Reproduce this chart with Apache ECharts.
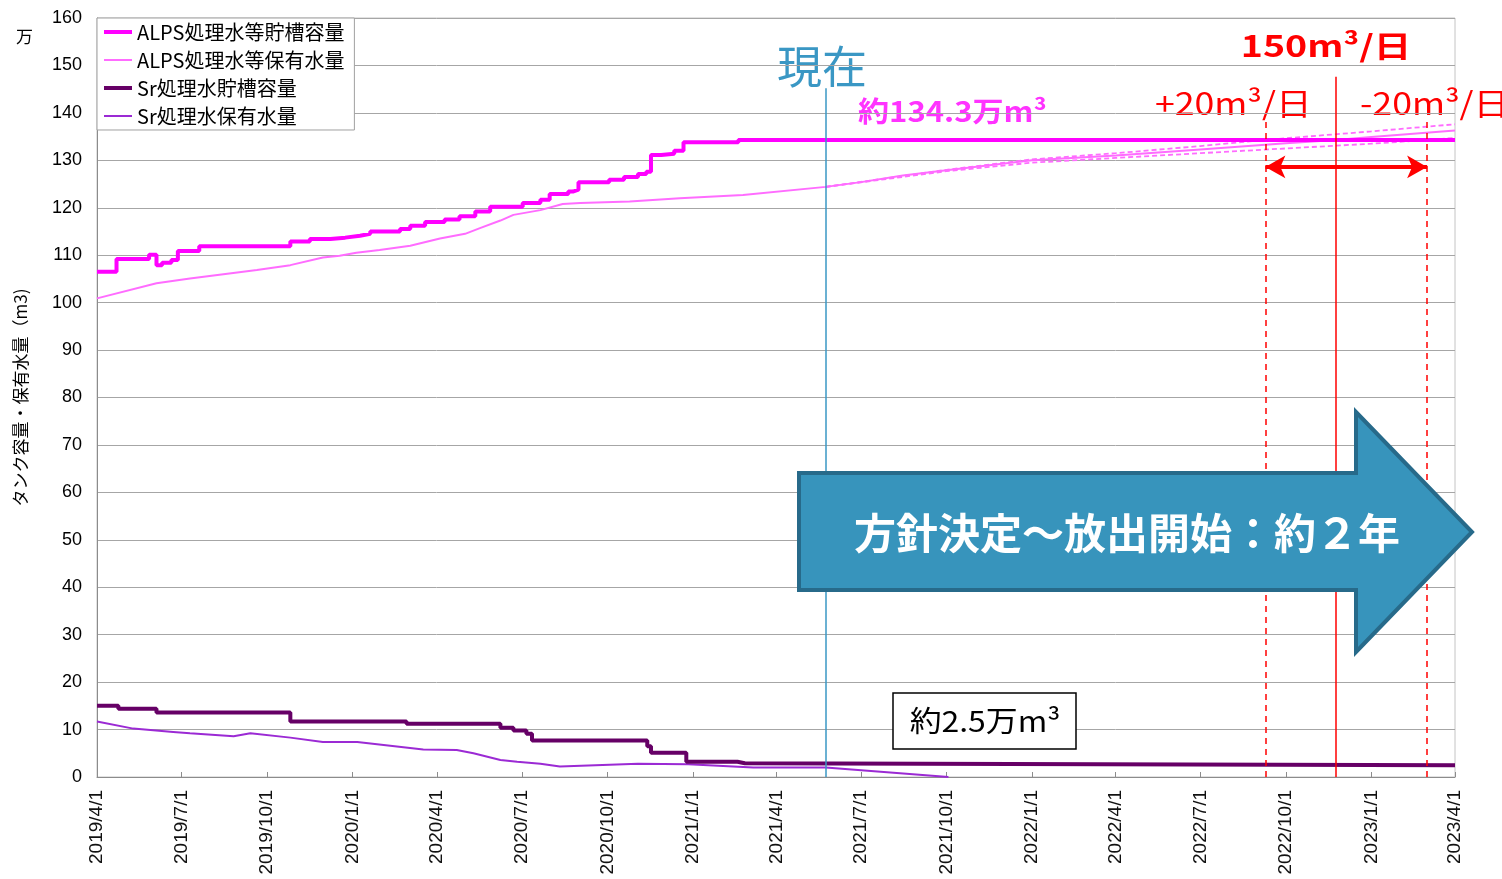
<!DOCTYPE html>
<html lang="ja">
<head>
<meta charset="utf-8">
<title>タンク容量・保有水量</title>
<script src="https://cdn.jsdelivr.net/npm/echarts@6.0.0/dist/echarts.min.js"></script>
<style>
    html, body { margin: 0; padding: 0; background: #fff; }
    #chart { width: 1502px; height: 879px; }
</style>
</head>
<body>
<div id="chart"></div>
<script>
// quarter ticks on the x axis
const quarterLabels = [
    '2019/4/1', '2019/7/1', '2019/10/1', '2020/1/1', '2020/4/1', '2020/7/1',
    '2020/10/1', '2021/1/1', '2021/4/1', '2021/7/1', '2021/10/1', '2022/1/1',
    '2022/4/1', '2022/7/1', '2022/10/1', '2023/1/1', '2023/4/1',
]

// ALPS処理水等貯槽容量 (万m3), value holds from the date on
const alpsCapacity = [
    ['2019/4/1', 106.5], ['2019/4/22', 109.2], ['2019/5/27', 110.1], ['2019/6/4', 107.9],
    ['2019/6/10', 108.4], ['2019/6/20', 109.0], ['2019/6/27', 110.9], ['2019/7/20', 111.9],
    ['2019/10/26', 112.9], ['2019/11/16', 113.4], ['2019/12/8', 113.7], ['2019/12/24', 114.1],
    ['2020/1/9', 114.5], ['2020/1/20', 115.0], ['2020/2/21', 115.5], ['2020/3/3', 116.2],
    ['2020/3/19', 117.0], ['2020/4/9', 117.5], ['2020/4/25', 118.2], ['2020/5/12', 119.2],
    ['2020/5/28', 120.2], ['2020/7/2', 121.0], ['2020/7/21', 121.7], ['2020/7/31', 122.9],
    ['2020/8/20', 123.4], ['2020/8/25', 123.8], ['2020/8/31', 125.4], ['2020/10/3', 125.9],
    ['2020/10/19', 126.5], ['2020/11/3', 127.1], ['2020/11/12', 127.6], ['2020/11/17', 131.1],
    ['2020/11/28', 131.4], ['2020/12/12', 132.0], ['2020/12/22', 133.8], ['2021/2/19', 134.3],
    ['2023/4/1', 134.3],
]

// ALPS処理水等保有水量 (actual up to 現在, then 150m3/日 projection)
const alpsStored = [
    ['2019/4/1', 100.9], ['2019/6/4', 104.1], ['2019/7/10', 105.1], ['2019/8/15', 106.0],
    ['2019/9/20', 106.9], ['2019/10/26', 107.9], ['2019/11/30', 109.5], ['2019/12/18', 109.9],
    ['2020/1/5', 110.5], ['2020/1/30', 111.1], ['2020/3/3', 112.0], ['2020/4/4', 113.5],
    ['2020/5/1', 114.5], ['2020/5/17', 115.7], ['2020/6/8', 117.3], ['2020/6/22', 118.5],
    ['2020/7/21', 119.5], ['2020/8/14', 120.8], ['2020/9/2', 121.0], ['2020/10/25', 121.3],
    ['2020/12/18', 122.0], ['2021/2/24', 122.7], ['2021/5/24', 124.4], ['2021/7/1', 125.4],
    ['2021/8/15', 126.8], ['2021/10/1', 127.9], ['2022/1/1', 130.0], ['2022/4/1', 131.0],
    ['2022/7/1', 132.3], ['2022/10/1', 133.6], ['2022/11/24', 134.3], ['2023/1/1', 134.9],
    ['2023/4/1', 136.3],
]

// projection +20m3/日 and -20m3/日
const alpsPlus20 = [
    ['2021/5/24', 124.4], ['2021/10/1', 128.0], ['2022/1/1', 130.2], ['2022/4/1', 131.5],
    ['2022/7/1', 133.0], ['2022/9/9', 134.3], ['2023/1/1', 136.1], ['2023/4/1', 137.6],
]
const alpsMinus20 = [
    ['2021/5/24', 124.4], ['2021/10/1', 127.7], ['2022/1/1', 129.5], ['2022/4/1', 130.5],
    ['2022/7/1', 131.5], ['2022/10/1', 132.5], ['2023/1/1', 133.5], ['2023/3/2', 134.3],
    ['2023/4/1', 134.7],
]

// Sr処理水貯槽容量
const srCapacity = [
    ['2019/4/1', 15.0], ['2019/4/24', 14.4], ['2019/6/4', 13.6], ['2019/10/26', 11.7],
    ['2020/2/28', 11.2], ['2020/6/8', 10.4], ['2020/6/22', 9.8], ['2020/7/6', 9.1],
    ['2020/7/12', 7.7], ['2020/11/13', 6.5], ['2020/11/17', 5.1], ['2020/12/25', 3.2],
    ['2021/2/18', 2.9], ['2021/2/26', 2.5], ['2023/4/1', 2.5],
]

// Sr処理水保有水量
const srStored = [
    ['2019/4/1', 11.7], ['2019/5/10', 10.2], ['2019/6/22', 9.5], ['2019/7/10', 9.2],
    ['2019/8/26', 8.6], ['2019/9/13', 9.2], ['2019/10/26', 8.3], ['2019/11/30', 7.4],
    ['2020/1/6', 7.4], ['2020/3/17', 5.8], ['2020/4/22', 5.7], ['2020/5/10', 5.0],
    ['2020/6/8', 3.6], ['2020/6/26', 3.2], ['2020/7/21', 2.8], ['2020/8/11', 2.2],
    ['2020/11/3', 2.8], ['2020/12/27', 2.7], ['2021/3/7', 2.0], ['2021/5/24', 2.0],
    ['2021/10/3', 0],
]

// event dates
const nowDate = '2021/5/24'
const fullDate = '2022/11/24'
const fullDatePlus = '2022/9/9'
const fullDateMinus = '2023/3/2'

// one category per day from the first to the last quarter tick
const days = []
const startUtc = Date.UTC(2019, 3, 1)
const endUtc = Date.UTC(2023, 3, 1)
for (let t = startUtc; t <= endUtc; t += 86400000) {
    const d = new Date(t)
    days.push(`${d.getUTCFullYear()}/${d.getUTCMonth() + 1}/${d.getUTCDate()}`)
}
const quarterSet = new Set(quarterLabels)
const isQuarter = (index, value) => quarterSet.has(value)

const jpFont = "'Noto Sans CJK JP', sans-serif"
const numFont = "'Liberation Sans', 'Noto Sans CJK JP', sans-serif"
const red = '#ff0000'

// flat bar icons for the legend (thick and thin)
const thickIcon = 'path://M0,0L28,0L28,4L0,4Z'
const thinIcon = 'path://M0,0L28,0L28,2L0,2Z'

const vLine = (date, top, style) => [
    { coord: [date, 0], lineStyle: style },
    { coord: [date, top] },
]

const chart = echarts.init(document.getElementById('chart'))

chart.setOption({
    animation: false,
    textStyle: { fontFamily: jpFont },
    grid: {
        left: 97,
        right: 47,
        top: 18,
        bottom: 102,
        show: true,
        borderColor: '#c4c4c4',
        borderWidth: 1,
    },
    legend: {
        data: [
            { name: 'ALPS処理水等貯槽容量', icon: thickIcon },
            { name: 'ALPS処理水等保有水量', icon: thinIcon },
            { name: 'Sr処理水貯槽容量', icon: thickIcon },
            { name: 'Sr処理水保有水量', icon: thinIcon },
        ],
        orient: 'vertical',
        left: 97,
        top: 18,
        padding: [4, 10, 4, 7],
        itemGap: 8,
        itemWidth: 28,
        itemHeight: 18,
        backgroundColor: '#fff',
        borderColor: '#a0a0a0',
        borderWidth: 1,
        textStyle: { fontSize: 20, color: '#000', fontFamily: jpFont },
    },
    xAxis: {
        type: 'category',
        data: days,
        boundaryGap: false,
        axisLine: { lineStyle: { color: '#8c8c8c' } },
        axisTick: {
            inside: true,
            length: 5,
            interval: isQuarter,
            lineStyle: { color: '#8c8c8c' },
        },
        axisLabel: {
            interval: isQuarter,
            rotate: 90,
            margin: 13,
            fontSize: 19,
            color: '#111',
            fontFamily: numFont,
        },
        splitLine: { show: false },
    },
    yAxis: {
        type: 'value',
        min: 0,
        max: 160,
        interval: 10,
        name: 'タンク容量・保有水量（m3)',
        nameLocation: 'middle',
        nameRotate: 90,
        nameGap: 68,
        nameTextStyle: { fontSize: 17, color: '#000', fontFamily: jpFont },
        axisLine: { show: true, lineStyle: { color: '#8c8c8c' } },
        axisTick: { show: false },
        axisLabel: { fontSize: 18, color: '#000', margin: 15, fontFamily: numFont },
        splitLine: { lineStyle: { color: '#a6a6a6', width: 1 } },
    },
    series: [
        {
            name: 'ALPS処理水等貯槽容量',
            type: 'line',
            step: 'end',
            symbol: 'none',
            data: alpsCapacity,
            itemStyle: { color: '#ff00ff' },
            lineStyle: { color: '#ff00ff', width: 4 },
            z: 4,
        },
        {
            name: 'ALPS処理水等保有水量',
            type: 'line',
            symbol: 'none',
            data: alpsStored,
            itemStyle: { color: '#ff6cff' },
            lineStyle: { color: '#ff6cff', width: 2 },
            z: 3,
        },
        {
            name: 'Sr処理水貯槽容量',
            type: 'line',
            step: 'end',
            symbol: 'none',
            data: srCapacity,
            itemStyle: { color: '#660066' },
            lineStyle: { color: '#660066', width: 4 },
            z: 4,
        },
        {
            name: 'Sr処理水保有水量',
            type: 'line',
            symbol: 'none',
            data: srStored,
            itemStyle: { color: '#9b2ad4' },
            lineStyle: { color: '#9b2ad4', width: 2 },
            z: 3,
        },
        {
            name: '+20m3/日',
            type: 'line',
            symbol: 'none',
            data: alpsPlus20,
            lineStyle: { color: '#ff6cff', width: 1.8, type: [5, 3] },
            z: 3,
        },
        {
            name: '-20m3/日',
            type: 'line',
            symbol: 'none',
            data: alpsMinus20,
            lineStyle: { color: '#ff6cff', width: 1.8, type: [5, 3] },
            z: 3,
            markLine: {
                silent: true,
                symbol: 'none',
                label: { show: false },
                data: [
                    vLine(nowDate, 145.2, { color: '#3a97c4', width: 1.5, type: 'solid' }),
                    vLine(fullDate, 147.6, { color: red, width: 1.5, type: 'solid' }),
                    vLine(fullDatePlus, 138.9, { color: red, width: 1.5, type: [6, 5] }),
                    vLine(fullDateMinus, 138.9, { color: red, width: 1.5, type: [6, 5] }),
                    [
                        {
                            coord: [fullDatePlus, 128.6],
                            symbol: 'arrow',
                            symbolSize: [17, 20],
                            lineStyle: { color: red, width: 4, type: 'solid' },
                        },
                        { coord: [fullDateMinus, 128.6], symbol: 'arrow', symbolSize: [17, 20] },
                    ],
                ],
            },
        },
    ],
    graphic: [
        {
            type: 'text',
            x: 16,
            y: 28,
            style: { text: '万', fontSize: 17, fill: '#000', fontFamily: jpFont },
        },
        {
            type: 'text',
            x: 822,
            y: 67,
            style: {
                text: '現在', fontSize: 45, fill: '#3a97c4', fontFamily: jpFont,
                align: 'center', verticalAlign: 'middle',
            },
        },
        {
            type: 'text',
            x: 858,
            y: 111,
            scaleX: 1.11,
            style: {
                text: '約134.3万m³', fontSize: 28, fontWeight: 'bold', fill: '#ff33ff',
                fontFamily: jpFont, align: 'left', verticalAlign: 'middle',
            },
        },
        {
            type: 'text',
            x: 1326,
            y: 46,
            scaleX: 1.25,
            style: {
                text: '150m³/日', fontSize: 30, fontWeight: 'bold', fill: red,
                fontFamily: jpFont, align: 'center', verticalAlign: 'middle',
            },
        },
        {
            type: 'text',
            x: 1155,
            y: 103,
            scaleX: 1.15,
            style: {
                text: '+20m³/日', fontSize: 31, fill: red,
                fontFamily: jpFont, align: 'left', verticalAlign: 'middle',
            },
        },
        {
            type: 'text',
            x: 1360,
            y: 103,
            scaleX: 1.15,
            style: {
                text: '-20m³/日', fontSize: 31, fill: red,
                fontFamily: jpFont, align: 'left', verticalAlign: 'middle',
            },
        },
        {
            type: 'polygon',
            z: 100,
            shape: {
                points: [
                    [799, 473], [1356, 473], [1356, 412], [1472, 532],
                    [1356, 652], [1356, 590], [799, 590],
                ],
            },
            style: { fill: '#3794bc', stroke: '#276a8a', lineWidth: 4 },
        },
        {
            type: 'text',
            z: 101,
            x: 1127,
            y: 533,
            style: {
                text: '方針決定～放出開始：約２年', fontSize: 42, fontWeight: 'bold', fill: '#fff',
                fontFamily: jpFont, align: 'center', verticalAlign: 'middle',
            },
        },
        {
            type: 'rect',
            z: 100,
            shape: { x: 893, y: 693, width: 183, height: 56 },
            style: { fill: '#fff', stroke: '#000', lineWidth: 1.5 },
        },
        {
            type: 'text',
            z: 101,
            x: 985,
            y: 721,
            scaleX: 1.1,
            style: {
                text: '約2.5万m³', fontSize: 29, fill: '#000',
                fontFamily: jpFont, align: 'center', verticalAlign: 'middle',
            },
        },
    ],
})

window.addEventListener('resize', () => chart.resize())
</script>
</body>
</html>
